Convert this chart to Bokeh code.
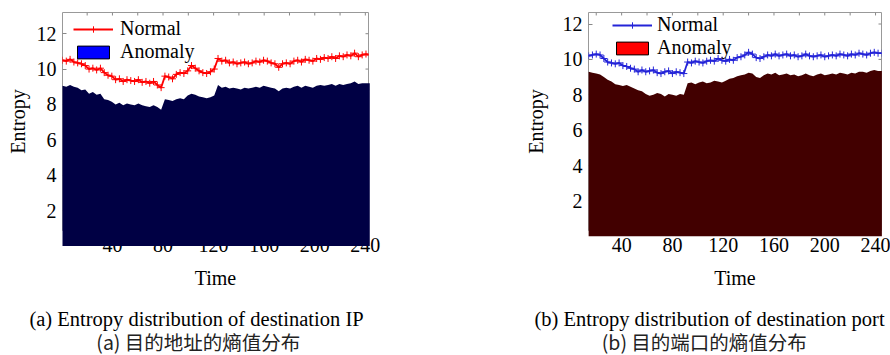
import numpy as np
from bokeh.plotting import figure
from bokeh.models import Range1d, FixedTicker, Legend, LegendItem, Label
from bokeh.layouts import row, column
from bokeh.embed import file_html
from bokeh.resources import INLINE

# ---------------- data ----------------
x_ticks = [40, 80, 120, 160, 200, 240]
top_ticks = [20, 40, 60, 80, 100, 120, 140, 160, 180, 200, 220, 240]
y_ticks = [2, 4, 6, 8, 10, 12]
legend_labels = ["Normal", "Anomaly"]
captions_en = ["(a) Entropy distribution of destination IP",
               "(b) Entropy distribution of destination port"]
captions_zh = ["(a)  目的地址的熵值分布", "(b)  目的端口的熵值分布"]

normal_ip = [10.5, 10.45, 10.55, 10.4, 10.35, 10.3, 10.2, 10.0, 10.05, 9.95,
             10.05, 9.8, 9.65, 9.6, 9.4, 9.45, 9.3, 9.4, 9.35, 9.3,
             9.4, 9.25, 9.3, 9.2, 9.3, 9.1, 8.95, 9.6, 9.55, 9.45,
             9.7, 9.8, 9.75, 9.9, 10.2, 10.05, 9.9, 9.8, 9.75, 9.85,
             10.0, 10.6, 10.45, 10.5, 10.35, 10.4, 10.3, 10.35, 10.4, 10.3,
             10.35, 10.45, 10.4, 10.5, 10.45, 10.35, 10.3, 10.1, 10.3, 10.35,
             10.3, 10.45, 10.5, 10.4, 10.55, 10.5, 10.45, 10.6, 10.55, 10.65,
             10.6, 10.7, 10.6, 10.75, 10.7, 10.8, 10.75, 10.9, 10.7, 10.8,
             10.85, 10.8]
anomaly_ip = [9.05, 9.0, 9.1, 9.0, 8.95, 8.8, 8.85, 8.6, 8.7, 8.55,
              8.6, 8.3, 8.25, 8.15, 8.0, 8.1, 7.95, 8.05, 8.0, 7.95,
              8.05, 7.95, 7.9, 7.85, 7.95, 7.85, 7.7, 8.3, 8.25, 8.2,
              8.3, 8.35, 8.3, 8.5, 8.6, 8.55, 8.45, 8.4, 8.35, 8.4,
              8.5, 9.1, 8.95, 9.0, 8.9, 8.95, 8.9, 8.85, 8.95, 8.9,
              8.95, 9.0, 8.95, 9.05, 9.0, 8.95, 8.9, 8.75, 8.9, 8.95,
              8.9, 9.0, 9.05, 8.95, 9.05, 9.0, 8.95, 9.05, 9.1, 9.05,
              9.1, 9.15, 9.05, 9.15, 9.1, 9.15, 9.2, 9.3, 9.15, 9.2,
              9.2, 9.2]
normal_port = [10.2, 10.25, 10.3, 10.25, 10.05, 9.85, 9.8, 9.75, 9.8, 9.65,
               9.6, 9.5, 9.45, 9.3, 9.4, 9.3, 9.35, 9.4, 9.25, 9.2,
               9.3, 9.35, 9.2, 9.3, 9.25, 9.2, 9.85, 9.8, 9.9, 9.85,
               9.8, 9.9, 9.95, 9.9, 10.05, 9.95, 9.9, 10.0, 9.95, 10.1,
               10.15, 10.25, 10.4, 10.3, 10.1, 10.05, 10.15, 10.25, 10.2, 10.3,
               10.2, 10.25, 10.3, 10.2, 10.25, 10.15, 10.2, 10.3, 10.2, 10.15,
               10.2, 10.25, 10.15, 10.2, 10.25, 10.2, 10.3, 10.25, 10.2, 10.3,
               10.25, 10.35, 10.3, 10.25, 10.35, 10.4, 10.35, 10.35]
anomaly_port = [9.3, 9.25, 9.2, 9.15, 9.0, 8.85, 8.75, 8.6, 8.55, 8.5,
                8.55, 8.45, 8.35, 8.25, 8.2, 8.05, 7.95, 8.0, 8.1, 8.05,
                7.9, 8.05, 8.0, 7.95, 8.05, 8.0, 8.65, 8.7, 8.6, 8.7,
                8.75, 8.65, 8.7, 8.8, 8.75, 8.7, 8.8, 8.9, 8.95, 9.05,
                9.1, 9.15, 9.25, 9.2, 9.0, 8.95, 9.1, 9.2, 9.15, 9.25,
                9.1, 9.15, 9.2, 9.1, 9.15, 9.05, 9.1, 9.2, 9.1, 9.05,
                9.15, 9.2, 9.1, 9.15, 9.2, 9.15, 9.25, 9.2, 9.15, 9.25,
                9.2, 9.3, 9.3, 9.25, 9.35, 9.4, 9.35, 9.35]

time_ip = 0.5 + 3 * np.arange(len(normal_ip))
time_port = 14 + 3 * np.arange(len(normal_port))

SERIF = "Liberation Serif"
CJK = "Noto Sans CJK SC"
PLOT_H = 296
CAP_H = 59


def make_panel(t, normal, anomaly, line_color, fill_color, patch_color,
               xr, yr, width, mb_left, mb_right, mb_top, frame_h,
               y_lab_standoff, leg_x, leg_top, leg_spacing, leg_standoff):
    mb_bottom = PLOT_H - mb_top - frame_h
    frame_w = width - mb_left - mb_right
    p = figure(width=width, height=PLOT_H, output_backend="svg",
               toolbar_location=None,
               x_range=Range1d(*xr), y_range=Range1d(*yr),
               min_border_left=mb_left, min_border_right=mb_right,
               min_border_top=mb_top, min_border_bottom=mb_bottom,
               x_axis_label="Time", y_axis_label="Entropy")
    p.grid.visible = False
    p.outline_line_color = "#999999"
    p.outline_line_width = 1
    p.background_fill_color = "white"
    p.border_fill_color = "white"

    xa = p.xaxis[0]
    xa.ticker = FixedTicker(ticks=x_ticks)
    ya = p.yaxis[0]
    ya.ticker = FixedTicker(ticks=y_ticks)
    for ax in (xa, ya):
        ax.axis_line_color = None
        ax.major_tick_out = 0
        ax.major_tick_in = 4
        ax.minor_tick_in = 0
        ax.minor_tick_out = 0
        ax.major_tick_line_color = "#888888"
        ax.major_label_text_font = SERIF
        ax.major_label_text_font_size = "20px"
        ax.major_label_text_color = "black"
        ax.axis_label_text_font = SERIF
        ax.axis_label_text_font_size = "20px"
        ax.axis_label_text_font_style = "normal"
        ax.axis_label_text_color = "black"
    xa.major_label_standoff = 7
    xa.axis_label_standoff = 12
    ya.major_label_standoff = 6
    ya.axis_label_standoff = y_lab_standoff

    # mirrored inward ticks on the top and right edges of the box
    dy = 3.0 * (yr[1] - yr[0]) / frame_h
    dx = 3.0 * (xr[1] - xr[0]) / frame_w
    p.segment(x0=top_ticks, y0=[yr[1]] * len(top_ticks),
              x1=top_ticks, y1=[yr[1] - dy] * len(top_ticks),
              line_color="#888888", line_width=1)
    p.segment(x0=[xr[1]] * len(y_ticks), y0=y_ticks,
              x1=[xr[1] - dx] * len(y_ticks), y1=y_ticks,
              line_color="#888888", line_width=1)

    p.varea(x=t, y1=0, y2=anomaly, fill_color=fill_color, level="overlay")
    ln = p.line(t, normal, line_color=line_color, line_width=1.8)
    sc = p.scatter(t, normal, marker="cross", size=7, line_color=line_color,
                   line_width=1)
    patch = p.quad(left=[np.nan], right=[np.nan], top=[np.nan], bottom=[np.nan],
                   fill_color=patch_color, line_color="black", line_width=1)

    item_h = 24
    leg_h = 2 * item_h + leg_spacing
    leg = Legend(items=[LegendItem(label=legend_labels[0], renderers=[ln, sc]),
                        LegendItem(label=legend_labels[1], renderers=[patch])],
                 location=(leg_x, frame_h - leg_top - leg_h),
                 padding=0, margin=0, spacing=leg_spacing,
                 border_line_alpha=0, background_fill_alpha=0,
                 label_text_font=SERIF, label_text_font_size="20px",
                 label_text_color="black",
                 glyph_width=40, glyph_height=16, label_standoff=leg_standoff,
                 label_height=20)
    p.add_layout(leg)
    return p


pa = make_panel(time_ip, normal_ip, anomaly_ip, "#ff0000", "#000044", "#0000ff",
                (0.5, 242.5), (0.87, 13.2), 445, 62, 77, 12, 218,
                5, 11, 3, 0, 7)
pb = make_panel(time_port, normal_port, anomaly_port, "#2424d8", "#420000", "#ff0000",
                (13.9, 244.7), (0.33, 12.65), 445, 143, 9, 9, 221,
                13, 24, 6, -4, 5)

# caption strip under the two panels
cap = figure(width=890, height=CAP_H, output_backend="svg", toolbar_location=None,
             x_range=Range1d(0, 890), y_range=Range1d(0, CAP_H),
             x_axis_type=None, y_axis_type=None, min_border=0)
cap.grid.visible = False
cap.outline_line_color = None
cap.title.visible = False
cap_x_en = [196, 709]
cap_x_zh = [200, 706]
for i in range(2):
    cap.add_layout(Label(x=cap_x_en[i], y=37, x_units="screen", y_units="screen",
                         text=captions_en[i], text_align="center",
                         text_baseline="middle", text_font=SERIF,
                         text_font_size="20.5px", text_color="black"))
    cap.add_layout(Label(x=cap_x_zh[i], y=14, x_units="screen", y_units="screen",
                         text=captions_zh[i], text_align="center",
                         text_baseline="middle", text_font=CJK,
                         text_font_size="19.5px", text_color="#222222"))

layout = column(row(pa, pb), cap)
open("out.html", "w").write(file_html(layout, INLINE))
